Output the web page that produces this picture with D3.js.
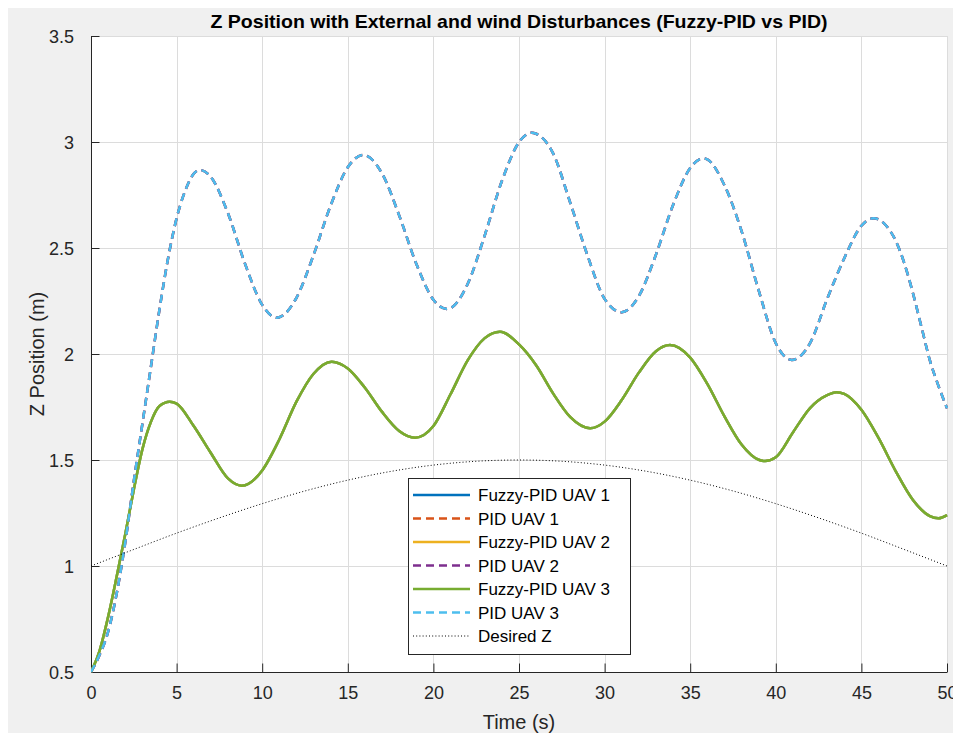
<!DOCTYPE html>
<html>
<head>
<meta charset="utf-8">
<script src="https://cdn.jsdelivr.net/npm/d3@7"></script>
<style>
  html, body { margin: 0; padding: 0; background: #ffffff; }
  svg { display: block; font-family: "Liberation Sans", Arial, Helvetica, sans-serif; }
</style>
</head>
<body>
<svg id="chart" width="953" height="738"></svg>
<script>
// ---------------- data ----------------
const chartTitle = "Z Position with External and wind Disturbances (Fuzzy-PID vs PID)";
const xLabel = "Time (s)";
const yLabel = "Z Position (m)";
const xTicks = [0, 5, 10, 15, 20, 25, 30, 35, 40, 45, 50];
const yTicks = [0.5, 1, 1.5, 2, 2.5, 3, 3.5];

// Fuzzy-PID response (all three UAVs coincide)
const fuzzyT = [0, 0.5, 1, 1.5, 2, 2.5, 3, 3.5, 4, 4.6, 5, 6, 7, 8, 8.8, 9, 10, 11, 12, 13, 14.06, 15, 16, 17, 18, 18.93, 20, 21, 22, 23, 23.89, 25, 26, 27, 28, 29.15, 30, 31, 32, 33, 33.82, 35, 36, 37, 38, 39, 39.37, 40, 41, 42, 43, 43.55, 44, 45, 46, 47, 48, 49, 49.5, 50];
const fuzzyZ = [0.5, 0.6, 0.76, 0.95, 1.15, 1.36, 1.55, 1.68, 1.755, 1.775, 1.766, 1.66, 1.533, 1.413, 1.379, 1.381, 1.451, 1.597, 1.775, 1.907, 1.964, 1.932, 1.841, 1.727, 1.637, 1.605, 1.66, 1.81, 1.97, 2.075, 2.105, 2.045, 1.947, 1.813, 1.702, 1.65, 1.681, 1.783, 1.912, 2.013, 2.042, 1.983, 1.859, 1.706, 1.573, 1.501, 1.495, 1.513, 1.63, 1.745, 1.806, 1.82, 1.812, 1.737, 1.604, 1.448, 1.313, 1.235, 1.225, 1.24];

// PID response (all three UAVs coincide)
const pidT = [0, 0.5, 1, 1.5, 2, 2.5, 3, 3.5, 4, 4.5, 5, 5.5, 6, 6.37, 7, 8, 9, 10, 10.85, 11, 12, 13, 14, 15, 15.9, 17, 18, 19, 20, 20.78, 21, 22, 23, 24, 25, 25.74, 26, 27, 28, 29, 30, 31, 32, 33, 34, 35, 35.77, 36, 37, 38, 39, 40, 40.93, 41.5, 42, 43, 44, 45, 45.7, 46, 46.5, 47, 47.5, 48, 48.5, 49, 49.5, 50];
const pidZ = [0.5, 0.58, 0.69, 0.87, 1.11, 1.40, 1.67, 1.94, 2.21, 2.45, 2.64, 2.77, 2.85, 2.868, 2.835, 2.664, 2.425, 2.232, 2.171, 2.173, 2.265, 2.467, 2.701, 2.881, 2.939, 2.852, 2.654, 2.426, 2.256, 2.212, 2.216, 2.33, 2.56, 2.816, 2.999, 3.044, 3.039, 2.945, 2.712, 2.465, 2.26, 2.197, 2.273, 2.469, 2.703, 2.877, 2.923, 2.918, 2.796, 2.58, 2.30, 2.051, 1.972, 1.995, 2.051, 2.26, 2.452, 2.605, 2.64, 2.635, 2.6, 2.535, 2.43, 2.29, 2.13, 1.97, 1.85, 1.744];

// Desired altitude
const desiredT = [0, 2.5, 5, 7.5, 10, 12.5, 15, 17.5, 20, 22.5, 25, 27.5, 30, 32.5, 35, 37.5, 40, 42.5, 45, 47.5, 50];
const desiredZ = [1.0, 1.078, 1.155, 1.227, 1.294, 1.354, 1.405, 1.446, 1.476, 1.494, 1.5, 1.494, 1.476, 1.446, 1.405, 1.354, 1.294, 1.227, 1.155, 1.078, 1.0];

const seriesNames = ["Fuzzy-PID UAV 1", "PID UAV 1", "Fuzzy-PID UAV 2", "PID UAV 2", "Fuzzy-PID UAV 3", "PID UAV 3", "Desired Z"];

// ---------------- styles ----------------
const styles = [
  { color: "#0072BD", dash: null, width: 2.5 },
  { color: "#D95319", dash: "8,5", width: 2.5 },
  { color: "#EDB120", dash: null, width: 2.5 },
  { color: "#7E2F8E", dash: "8,5", width: 2.5 },
  { color: "#77AC30", dash: null, width: 2.5 },
  { color: "#4DBEEE", dash: "8,5", width: 2.5 },
  { color: "#000000", dash: "1,2.2", width: 1 }
];
const seriesData = [
  [fuzzyT, fuzzyZ], [pidT, pidZ], [fuzzyT, fuzzyZ], [pidT, pidZ],
  [fuzzyT, fuzzyZ], [pidT, pidZ], [desiredT, desiredZ]
];

// ---------------- layout ----------------
const svg = d3.select("#chart");
const W = 953, H = 738;
const plot = { left: 91, right: 947, top: 36, bottom: 672 };
const axisColor = "#262626";

svg.append("rect").attr("x", 0).attr("y", 0).attr("width", W).attr("height", H).attr("fill", "#ffffff");
svg.append("rect").attr("x", 8).attr("y", 8).attr("width", W - 8).attr("height", H - 13).attr("fill", "#f0f0f0");
svg.append("rect").attr("x", plot.left).attr("y", plot.top)
  .attr("width", plot.right - plot.left).attr("height", plot.bottom - plot.top).attr("fill", "#ffffff");

const x = d3.scaleLinear().domain([0, 50]).range([plot.left, plot.right]);
const y = d3.scaleLinear().domain([0.5, 3.5]).range([plot.bottom, plot.top]);

// grid
const grid = svg.append("g").attr("stroke", "#dcdcdc").attr("stroke-width", 1).attr("shape-rendering", "crispEdges");
grid.selectAll(".gx").data(xTicks.slice(1)).enter().append("line")
  .attr("x1", d => Math.round(x(d)) + 0.5).attr("x2", d => Math.round(x(d)) + 0.5)
  .attr("y1", plot.top).attr("y2", plot.bottom);
grid.selectAll(".gy").data(yTicks.slice(1)).enter().append("line")
  .attr("y1", d => Math.round(y(d)) + 0.5).attr("y2", d => Math.round(y(d)) + 0.5)
  .attr("x1", plot.left).attr("x2", plot.right);

// axes
const fmt = d => String(d);
const xAxis = d3.axisBottom(x).tickValues(xTicks).tickFormat(fmt).tickSizeInner(-8.5).tickSizeOuter(0).tickPadding(14);
const yAxis = d3.axisLeft(y).tickValues(yTicks).tickFormat(fmt).tickSizeInner(-8.5).tickSizeOuter(0).tickPadding(17);

const gx = svg.append("g").attr("transform", `translate(0,${plot.bottom})`).call(xAxis);
const gy = svg.append("g").attr("transform", `translate(${plot.left},0)`).call(yAxis);
[gx, gy].forEach(g => {
  g.select(".domain").attr("stroke", axisColor).attr("stroke-width", 1);
  g.selectAll(".tick line").attr("stroke", axisColor);
  g.selectAll(".tick text").attr("fill", axisColor).attr("font-size", 18)
    .attr("font-family", "'Liberation Sans', Arial, sans-serif");
});
gy.selectAll(".tick text").attr("dy", "0.36em");

// series
svg.append("clipPath").attr("id", "plotclip").append("rect")
  .attr("x", plot.left).attr("y", plot.top - 2).attr("width", plot.right - plot.left + 1).attr("height", plot.bottom - plot.top + 4);
const lines = svg.append("g").attr("clip-path", "url(#plotclip)");
const lineGen = d3.line().x(d => x(d[0])).y(d => y(d[1])).curve(d3.curveMonotoneX);

seriesData.forEach((sd, i) => {
  const pts = sd[0].map((t, k) => [t, sd[1][k]]);
  const st = styles[i];
  lines.append("path").datum(pts)
    .attr("d", lineGen)
    .attr("fill", "none")
    .attr("stroke", st.color)
    .attr("stroke-width", st.width)
    .attr("stroke-dasharray", st.dash)
    .attr("stroke-linejoin", "round");
});

// title and axis labels
svg.append("text").attr("x", (plot.left + plot.right) / 2).attr("y", 28)
  .attr("text-anchor", "middle").attr("font-weight", "bold").attr("font-size", 19)
  .attr("fill", "#000").attr("textLength", 617).attr("lengthAdjust", "spacingAndGlyphs")
  .text(chartTitle);
svg.append("text").attr("x", (plot.left + plot.right) / 2).attr("y", 729)
  .attr("text-anchor", "middle").attr("font-size", 20).attr("fill", axisColor)
  .text(xLabel);
svg.append("text").attr("transform", `translate(44,${(plot.top + plot.bottom) / 2}) rotate(-90)`)
  .attr("text-anchor", "middle").attr("font-size", 20).attr("fill", axisColor)
  .text(yLabel);

// legend
const lg = { x: 408, y: 478, w: 222, h: 176, row: 23.5, first: 495 };
const legend = svg.append("g");
legend.append("rect").attr("x", lg.x + 0.5).attr("y", lg.y + 0.5).attr("width", lg.w).attr("height", lg.h)
  .attr("fill", "#ffffff").attr("stroke", axisColor).attr("stroke-width", 1);
seriesNames.forEach((name, i) => {
  const cy = lg.first + i * lg.row;
  const st = styles[i];
  legend.append("line").attr("x1", lg.x + 5).attr("x2", lg.x + 62).attr("y1", cy).attr("y2", cy)
    .attr("stroke", st.color).attr("stroke-width", st.width).attr("stroke-dasharray", st.dash);
  legend.append("text").attr("x", lg.x + 70).attr("y", cy).attr("dy", "0.36em")
    .attr("font-size", 17).attr("fill", "#000").text(name);
});
</script>
</body>
</html>
